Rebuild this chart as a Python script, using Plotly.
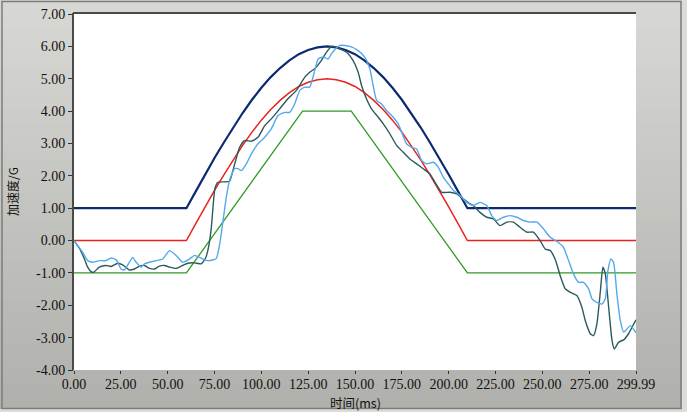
import plotly.graph_objects as go

# ---------------- data ----------------
ref_t = [0, 60, 65, 70, 75, 80, 85, 90, 95, 100, 105, 110, 115, 120, 125, 130, 135,
         140, 145, 150, 155, 160, 165, 170, 175, 180, 185, 190, 195, 200, 205, 210, 299.99]
upper_v = [1.00, 1.00, 1.52, 2.04, 2.55, 3.03, 3.50, 3.94, 4.35, 4.72, 5.05, 5.33, 5.57, 5.76,
           5.89, 5.97, 6.00, 5.97, 5.89, 5.76, 5.57, 5.33, 5.05, 4.72, 4.35, 3.94, 3.50, 3.03,
           2.55, 2.04, 1.52, 1.00, 1.00]
mid_v = [0.00, 0.00, 0.52, 1.04, 1.55, 2.03, 2.50, 2.94, 3.35, 3.72, 4.05, 4.33, 4.57, 4.76,
         4.89, 4.97, 5.00, 4.97, 4.89, 4.76, 4.57, 4.33, 4.05, 3.72, 3.35, 2.94, 2.50, 2.03,
         1.55, 1.04, 0.52, 0.00, 0.00]
lower_t = [0, 60, 122, 148, 210, 299.99]
lower_v = [-1.0, -1.0, 4.0, 4.0, -1.0, -1.0]

meas1_t = [0, 3, 5.5, 7.3, 9.1, 10.5, 13.5, 17, 19.8, 23.3, 26, 29.6, 32.2, 35, 37.6, 40.3,
           43, 45.6, 48.3, 51, 54.5, 58, 60.7, 64.3, 67.9, 69.7, 70.8, 72, 73.3, 74.3, 75.2,
           76.8, 83, 84.8, 88.4, 91, 94.7, 98.2, 101.8, 105.3, 109.8, 114.2, 118.7, 123.2,
           125.8, 128.5, 132, 134.8, 137.6, 140, 145.5, 149, 151.7, 153.5, 156.1, 158.8,
           162.4, 165, 168.6, 172.2, 175.7, 179.3, 182.9, 186.4, 190, 192.7, 196.3, 200.7,
           204.3, 207.8, 211.4, 213.2, 216.7, 220.3, 223.9, 227.4, 231, 234.5, 238.1, 241.7,
           245.2, 248.8, 251.5, 254.2, 257, 259.6, 262.2, 265, 268.4, 271.1, 272.9, 275.6,
           277.3, 279.1, 281, 282.3, 283.6, 285.4, 287.2, 288.4, 290.7, 293.4, 296, 299.99]
meas1_v = [0.0, -0.25, -0.56, -0.82, -0.96, -0.98, -0.82, -0.77, -0.80, -0.70, -0.75, -0.91,
           -0.88, -0.79, -0.77, -0.86, -0.88, -0.79, -0.77, -0.82, -0.86, -0.77, -0.70, -0.69,
           -0.72, -0.60, -0.45, -0.15, 0.40, 1.10, 1.60, 1.80, 1.83, 2.16, 2.88, 3.09, 3.07,
           3.19, 3.55, 3.76, 4.07, 4.38, 4.64, 5.05, 5.20, 5.31, 5.56, 5.82, 6.00, 5.97, 5.82,
           5.56, 5.20, 4.79, 4.38, 4.07, 3.81, 3.61, 3.30, 2.94, 2.73, 2.52, 2.37, 2.22, 2.06,
           1.80, 1.49, 1.49, 1.44, 1.29, 1.13, 1.08, 0.87, 0.72, 0.67, 0.46, 0.57, 0.57, 0.41,
           0.26, 0.26, 0.00, -0.26, -0.31, -0.60, -1.10, -1.49, -1.60, -1.70, -2.06, -2.47,
           -2.88, -2.94, -2.58, -1.55, -0.82, -1.03, -2.06, -3.09, -3.35, -3.14, -3.07, -2.88,
           -2.45]

meas2_t = [0, 4.6, 7.3, 10, 13.5, 17.1, 19.8, 22.5, 25.1, 26.9, 29.6, 31.3, 33.2, 35.8, 37.6,
           40.3, 43.9, 47.4, 51, 54.5, 58.1, 61.7, 64.3, 67, 69.7, 71.4, 74, 76, 77.5, 78.6,
           80, 81.3, 83, 85.7, 87.5, 89.3, 92, 94.7, 98.2, 101.8, 105.3, 108.9, 112.5, 115.1,
           117.8, 120.5, 123.2, 125.8, 128.5, 130.3, 132.9, 135.6, 137.4, 139.5, 141.9, 147.2,
           151.7, 155.2, 157.9, 159.7, 161.5, 164.2, 166.8, 170.4, 173, 174.9, 177.5, 180.2,
           182.9, 185.6, 188.2, 191.8, 194.4, 197.1, 199.8, 202.5, 206, 209.6, 213.2, 216.7,
           220.3, 223, 225.7, 229.2, 232.8, 236.4, 239.9, 243.5, 247.1, 250.6, 254.2, 257.8,
           261.3, 264, 266.6, 269.3, 272, 274.7, 276.5, 279.1, 281.8, 283.6, 285, 286.6, 288,
           289.8, 291.6, 293.4, 295.2, 297, 299.99]
meas2_v = [0.0, -0.36, -0.62, -0.67, -0.62, -0.62, -0.54, -0.59, -0.88, -0.91, -0.67, -0.52,
           -0.67, -0.82, -0.72, -0.67, -0.62, -0.57, -0.31, -0.46, -0.67, -0.57, -0.46, -0.52,
           -0.60, -0.62, -0.60, -0.55, -0.20, 0.21, 0.80, 1.34, 1.85, 2.22, 2.22, 2.16, 2.37,
           2.68, 2.99, 3.19, 3.45, 3.86, 3.96, 3.96, 4.22, 4.64, 4.74, 4.74, 5.25, 5.61, 5.67,
           5.61, 5.77, 5.92, 6.03, 6.00, 5.87, 5.67, 5.31, 4.79, 4.33, 4.22, 4.02, 3.81, 3.61,
           3.35, 2.99, 2.88, 2.83, 2.47, 2.37, 2.42, 2.27, 1.96, 1.75, 1.55, 1.40, 1.18, 1.08,
           1.18, 1.08, 0.77, 0.62, 0.72, 0.77, 0.72, 0.62, 0.57, 0.57, 0.36, 0.10, -0.03,
           -0.21, -0.62, -1.03, -1.29, -1.29, -1.49, -1.80, -1.91, -1.96, -1.80, -0.93, -0.57,
           -0.67, -1.65, -2.47, -2.83, -2.73, -2.63, -2.85]

x_ticks = [0, 25, 50, 75, 100, 125, 150, 175, 200, 225, 250, 275, 299.99]
x_tick_text = ["0.00", "25.00", "50.00", "75.00", "100.00", "125.00", "150.00", "175.00",
               "200.00", "225.00", "250.00", "275.00", "299.99"]
y_ticks = [-4, -3, -2, -1, 0, 1, 2, 3, 4, 5, 6, 7]
y_tick_text = ["-4.00", "-3.00", "-2.00", "-1.00", "0.00", "1.00", "2.00", "3.00", "4.00",
               "5.00", "6.00", "7.00"]
x_title = "时间(ms)"
y_title = "加速度/G"

# ---------------- figure ----------------
W, H = 687, 412
L, R, T, B = 74, 51, 14, 42
pw, ph = W - L - R, H - T - B
SERIF = "Times New Roman, Liberation Serif, DejaVu Serif, serif"
CJK = "Noto Sans CJK SC"

def px(x):
    return (x - L) / pw

def py(y):
    return (H - B - y) / ph

fig = go.Figure()
fig.add_trace(go.Scatter(x=lower_t, y=lower_v, mode="lines",
                         line=dict(color="#2f9a22", width=1.3), showlegend=False))
fig.add_trace(go.Scatter(x=ref_t, y=mid_v, mode="lines",
                         line=dict(color="#e8231d", width=1.5), showlegend=False))
fig.add_trace(go.Scatter(x=ref_t, y=upper_v, mode="lines",
                         line=dict(color="#0b2a70", width=2.2), showlegend=False))
fig.add_trace(go.Scatter(x=meas1_t, y=meas1_v, mode="lines",
                         line=dict(color="#2c5a5c", width=1.4, shape="spline", smoothing=0.5),
                         showlegend=False))
fig.add_trace(go.Scatter(x=meas2_t, y=meas2_v, mode="lines",
                         line=dict(color="#52a9ec", width=1.4, shape="spline", smoothing=0.5),
                         showlegend=False))

shapes = []
n = 30
top_c = (215, 215, 211)
bot_c = (176, 176, 172)
for i in range(n):
    f = i / (n - 1)
    c = tuple(int(round(top_c[k] + (bot_c[k] - top_c[k]) * f)) for k in range(3))
    y0 = i * H / n
    y1 = (i + 1) * H / n + 1
    shapes.append(dict(type="rect", xref="paper", yref="paper", layer="below",
                       x0=px(0), x1=px(W), y0=py(y1), y1=py(y0),
                       line=dict(width=0), fillcolor="rgb(%d,%d,%d)" % c))
shapes.append(dict(type="rect", xref="paper", yref="paper", layer="below",
                   x0=px(682), x1=px(W), y0=py(H), y1=py(0),
                   line=dict(width=0), fillcolor="#dcdcda"))
shapes.append(dict(type="rect", xref="paper", yref="paper", layer="below",
                   x0=px(0), x1=px(W), y0=py(H), y1=py(409),
                   line=dict(width=0), fillcolor="#dcdcda"))
shapes.append(dict(type="rect", xref="paper", yref="paper", layer="below",
                   x0=px(2), x1=px(681), y0=py(408.5), y1=py(1.5),
                   line=dict(width=1.5, color="#7c7c7a"), fillcolor="rgba(0,0,0,0)"))
shapes.append(dict(type="rect", xref="paper", yref="paper", layer="below",
                   x0=0, x1=1, y0=0, y1=1, line=dict(width=0), fillcolor="#ffffff"))
shapes.append(dict(type="line", xref="paper", yref="paper", layer="above",
                   x0=px(L - 1), x1=1, y0=py(T - 1), y1=py(T - 1),
                   line=dict(width=2, color="#4a4a4a")))
shapes.append(dict(type="line", xref="paper", yref="paper", layer="above",
                   x0=px(L - 1), x1=px(L - 1), y0=0, y1=py(T - 1),
                   line=dict(width=2, color="#4a4a4a")))

annotations = [
    dict(text=x_title, xref="paper", yref="paper", x=0.5, y=py(402), xanchor="center",
         yanchor="middle", showarrow=False, font=dict(family=CJK, size=12.5, color="#111111")),
    dict(text=y_title, xref="paper", yref="paper", x=px(12), y=0.5, xanchor="center",
         yanchor="middle", textangle=-90, showarrow=False,
         font=dict(family=CJK, size=12, color="#111111")),
]

fig.update_layout(
    width=W, height=H,
    margin=dict(l=L, r=R, t=T, b=B, pad=0),
    paper_bgcolor="#c8c8c4",
    plot_bgcolor="#ffffff",
    shapes=shapes,
    annotations=annotations,
    font=dict(family=SERIF, size=14, color="#111111"),
    xaxis=dict(range=[0, 299.99], tickmode="array", tickvals=x_ticks, ticktext=x_tick_text,
               showgrid=False, zeroline=False, showline=False, ticks="outside", ticklen=3,
               tickcolor="#333333", tickwidth=1, automargin=False, ticklabelstandoff=-2,
               tickfont=dict(family=SERIF, size=14, color="#111111")),
    yaxis=dict(range=[-4, 7], tickmode="array", tickvals=y_ticks, ticktext=y_tick_text,
               showgrid=False, zeroline=False, showline=False, ticks="outside", ticklen=5,
               tickcolor="#333333", tickwidth=1, automargin=False,
               tickfont=dict(family=SERIF, size=14, color="#111111")),
)

fig.write_html("out.html", config={"displayModeBar": False},
               post_script="document.body.style.margin='0';document.body.style.padding='0';"
                           "document.body.style.overflow='hidden';")
